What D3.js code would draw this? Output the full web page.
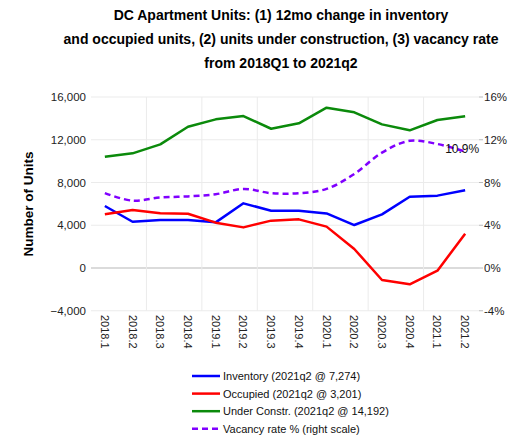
<!DOCTYPE html>
<html><head><meta charset="utf-8">
<script src="https://cdn.jsdelivr.net/npm/d3@7/dist/d3.min.js"></script>
<style>body{margin:0;background:#fff;}svg{display:block;font-family:"Liberation Sans",Arial,sans-serif;}</style>
</head><body><svg id="c" width="516" height="437"></svg>
<script>
const categories = ["2018.1","2018.2","2018.3","2018.4","2019.1","2019.2","2019.3","2019.4","2020.1","2020.2","2020.3","2020.4","2021.1","2021.2"];
const inventory = [5800,4330,4490,4490,4270,6050,5360,5360,5110,4020,5020,6670,6770,7274];
const occupied = [5020,5430,5120,5080,4240,3800,4430,4550,3870,1780,-1120,-1530,-250,3201];
const underConstr = [10420,10730,11570,13220,13910,14220,13030,13540,15000,14570,13440,12880,13850,14192];
const vacancy = [7.0,6.3,6.6,6.7,6.9,7.4,7.0,7.0,7.4,8.8,10.8,11.9,11.6,10.9];
const leftTicks = [-4000,0,4000,8000,12000,16000];
const rightTicks = [-4,0,4,8,12,16];
const titleLines = ["DC Apartment Units: (1) 12mo change in inventory","and occupied units, (2) units under construction, (3) vacancy rate","from 2018Q1 to 2021q2"];
const legendLabels = ["Inventory (2021q2 @ 7,274)","Occupied (2021q2 @ 3,201)","Under Constr. (2021q2 @ 14,192)","Vacancy rate % (right scale)"];

const svg = d3.select("#c");
const L = 91, R = 479, T = 97, B = 310.75;
const x = d3.scaleBand().domain(categories).range([L, R]);
const xc = c => x(c) + x.bandwidth()/2;
const y = d3.scaleLinear().domain([-4000,16000]).range([B, T]);
const y2 = d3.scaleLinear().domain([-4,16]).range([B, T]);

// title
svg.append("g").selectAll("text").data(titleLines).join("text")
  .attr("x", 281).attr("y", (d,i)=>20+i*24).attr("text-anchor","middle")
  .attr("font-size", 14).attr("font-weight","bold").attr("fill","#000").text(d=>d);

// gridlines
svg.append("g").selectAll("line").data(leftTicks).join("line")
  .attr("x1", L).attr("x2", R).attr("y1", d=>y(d)).attr("y2", d=>y(d))
  .attr("stroke", d=> d===0 ? "#cfcfcf" : "#ebebeb").attr("stroke-width", d=>d===0?1.5:1);
const vIdx = [2,4,6,8,10,12];
svg.append("g").selectAll("line").data(vIdx).join("line")
  .attr("x1", d=>x(categories[d])).attr("x2", d=>x(categories[d]))
  .attr("y1", T).attr("y2", B).attr("stroke","#ebebeb");

// left axis labels
svg.append("g").selectAll("text").data(leftTicks).join("text")
  .attr("x", 86).attr("y", d=>y(d)+4).attr("text-anchor","end")
  .attr("font-size", 11.5).attr("fill","#222").text(d=>d3.format(",")(d));
// right axis
svg.append("g").selectAll("line").data(rightTicks).join("line")
  .attr("x1", R).attr("x2", R+4).attr("y1", d=>y2(d)).attr("y2", d=>y2(d)).attr("stroke","#bbb");
svg.append("g").selectAll("text").data(rightTicks).join("text")
  .attr("x", 484).attr("y", d=>y2(d)+4).attr("text-anchor","start")
  .attr("font-size", 11.5).attr("fill","#222").text(d=>d+"%");

// axis title
svg.append("text").attr("transform","translate(33,204) rotate(-90)").attr("text-anchor","middle")
  .attr("font-size", 13.5).attr("font-weight","bold").text("Number of Units");

// x labels
svg.append("g").selectAll("text").data(categories).join("text")
  .attr("transform", d=>`translate(${xc(d)-4},315) rotate(90)`).attr("text-anchor","start")
  .attr("font-size", 11).attr("fill","#222").text(d=>d);

// lines
const line = d3.line().x((d,i)=>xc(categories[i])).y(d=>y(d));
const series = [
  {data: underConstr, color:"#0b8a0b"},
  {data: inventory, color:"#0000ff"},
  {data: occupied, color:"#ff0000"}
];
series.forEach(s=>{
  svg.append("path").attr("d", line(s.data)).attr("fill","none").attr("stroke", s.color)
    .attr("stroke-width", 2.5).attr("stroke-linejoin","round");
});
const vline = d3.line().x((d,i)=>xc(categories[i])).y(d=>y2(d)).curve(d3.curveCatmullRom.alpha(0.5));
svg.append("path").attr("d", vline(vacancy)).attr("fill","none").attr("stroke","#8000ff")
  .attr("stroke-width", 2.5).attr("stroke-dasharray","6,4");

// data label
const lastI = vacancy.length-1;
svg.append("text").attr("x", xc(categories[lastI])-3).attr("y", y2(vacancy[lastI])+1)
  .attr("text-anchor","middle").attr("font-size", 12).attr("fill","#111").text(vacancy[lastI].toFixed(1)+"%");

// legend
const legColors = ["#0000ff","#ff0000","#0b8a0b","#8000ff"];
const lg = svg.append("g");
legendLabels.forEach((t,i)=>{
  const yy = 376 + i*17.6;
  lg.append("line").attr("x1",192).attr("x2",220).attr("y1",yy).attr("y2",yy)
    .attr("stroke",legColors[i]).attr("stroke-width",2.5).attr("stroke-dasharray", i===3?"6,4":null);
  lg.append("text").attr("x",223).attr("y",yy+4).attr("font-size",11).attr("fill","#111").text(t);
});
</script></body></html>
